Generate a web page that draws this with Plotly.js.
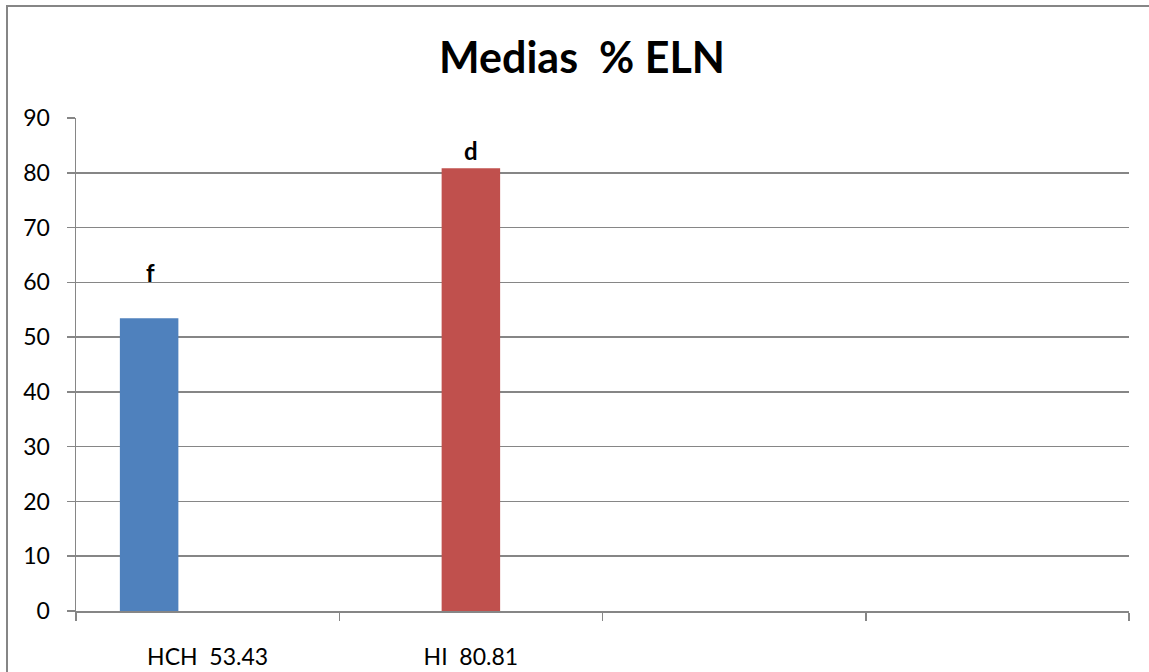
<!DOCTYPE html>
<html>
<head>
<meta charset="utf-8">
<script src="https://cdn.plot.ly/plotly-3.0.1.min.js"></script>
<style>
  html, body { margin: 0; padding: 0; background: #ffffff; overflow: hidden; }
  #wrap { position: relative; width: 1149px; height: 672px; overflow: hidden; }
  /* chart-area frame; its right and bottom edges run past the page */
  #frame {
    position: absolute; left: 6px; top: 5px; width: 1200px; height: 720px;
    border-top: 2px solid #868686; border-left: 2px solid #868686;
  }
  #chart { position: absolute; left: 0; top: 0; width: 1149px; height: 672px; }
</style>
</head>
<body>
<div id="wrap">
  <div id="frame"></div>
  <div id="chart"></div>
</div>
<script>
// Category keys on the x axis (four slots, the last two unused)
const categories = ['HCH', 'HI', 'cat3', 'cat4'];
// Mean % ELN per treatment
const meanHCH = [53.43, null, null, null];
const meanHI  = [null, 80.81, null, null];
const serie3  = [null, null, null, null];
// Significance letters drawn above the bars
const letters = ['f', 'd'];
const letterY = [60.0, 82.3];

const fmt = v => v.toFixed(2);
const tickLabels = [
  'HCH\u00a0 ' + fmt(meanHCH[0]),
  'HI\u00a0 ' + fmt(meanHI[1]),
  '',
  ''
];

const gray = '#868686';
const fontFam = 'Lato, "Open Sans", sans-serif';

const traces = [
  { type: 'bar', name: 'HCH', x: categories, y: meanHCH, marker: { color: '#4F81BD' }, hoverinfo: 'y' },
  { type: 'bar', name: 'HI',  x: categories, y: meanHI,  marker: { color: '#C0504D' }, hoverinfo: 'y' },
  { type: 'bar', name: 'S3',  x: categories, y: serie3,  marker: { color: '#9BBB59' }, hoverinfo: 'y' }
];

const layout = {
  width: 1149,
  height: 672,
  margin: { l: 76, r: 20, t: 118, b: 61 },
  paper_bgcolor: 'rgba(0,0,0,0)',
  plot_bgcolor: 'rgba(0,0,0,0)',
  showlegend: false,
  barmode: 'group',
  bargap: 1 / 3,
  bargroupgap: 0,
  font: { family: fontFam, size: 23, color: '#000000' },
  title: {
    text: '<b>Medias\u00a0 % ELN</b>',
    font: { family: fontFam, size: 43, color: '#000000' },
    x: 582 / 1149,
    xanchor: 'center',
    xref: 'container',
    yref: 'container',
    y: 1 - 58 / 672,
    yanchor: 'middle'
  },
  xaxis: {
    type: 'category',
    categoryorder: 'array',
    categoryarray: categories,
    tickmode: 'array',
    tickvals: categories,
    ticktext: tickLabels,
    tickson: 'boundaries',
    ticks: 'outside',
    ticklen: 8,
    tickwidth: 1.5,
    tickcolor: gray,
    showline: true,
    linecolor: gray,
    linewidth: 1.5,
    showgrid: false,
    zeroline: false,
    ticklabelstandoff: 25,
    tickfont: { family: fontFam, size: 23, color: '#000000' },
    fixedrange: true
  },
  yaxis: {
    range: [0, 90],
    tick0: 0,
    dtick: 10,
    ticks: 'outside',
    ticklen: 8,
    tickwidth: 1.5,
    tickcolor: gray,
    showline: true,
    linecolor: gray,
    linewidth: 1.5,
    showgrid: true,
    gridcolor: gray,
    gridwidth: 1.5,
    zeroline: false,
    ticklabelstandoff: 12,
    tickfont: { family: fontFam, size: 23, color: '#000000' },
    fixedrange: true
  },
  annotations: [
    {
      x: categories[0], y: letterY[0], xref: 'x', yref: 'y',
      text: '<b>' + letters[0] + '</b>', showarrow: false,
      xanchor: 'center', yanchor: 'bottom', xshift: -57, yshift: -7,
      font: { family: fontFam, size: 24, color: '#000000' }
    },
    {
      x: categories[1], y: letterY[1], xref: 'x', yref: 'y',
      text: '<b>' + letters[1] + '</b>', showarrow: false,
      xanchor: 'center', yanchor: 'bottom', xshift: 0, yshift: -7,
      font: { family: fontFam, size: 24, color: '#000000' }
    }
  ]
};

Plotly.newPlot('chart', traces, layout, { displayModeBar: false, staticPlot: true });
</script>
</body>
</html>
